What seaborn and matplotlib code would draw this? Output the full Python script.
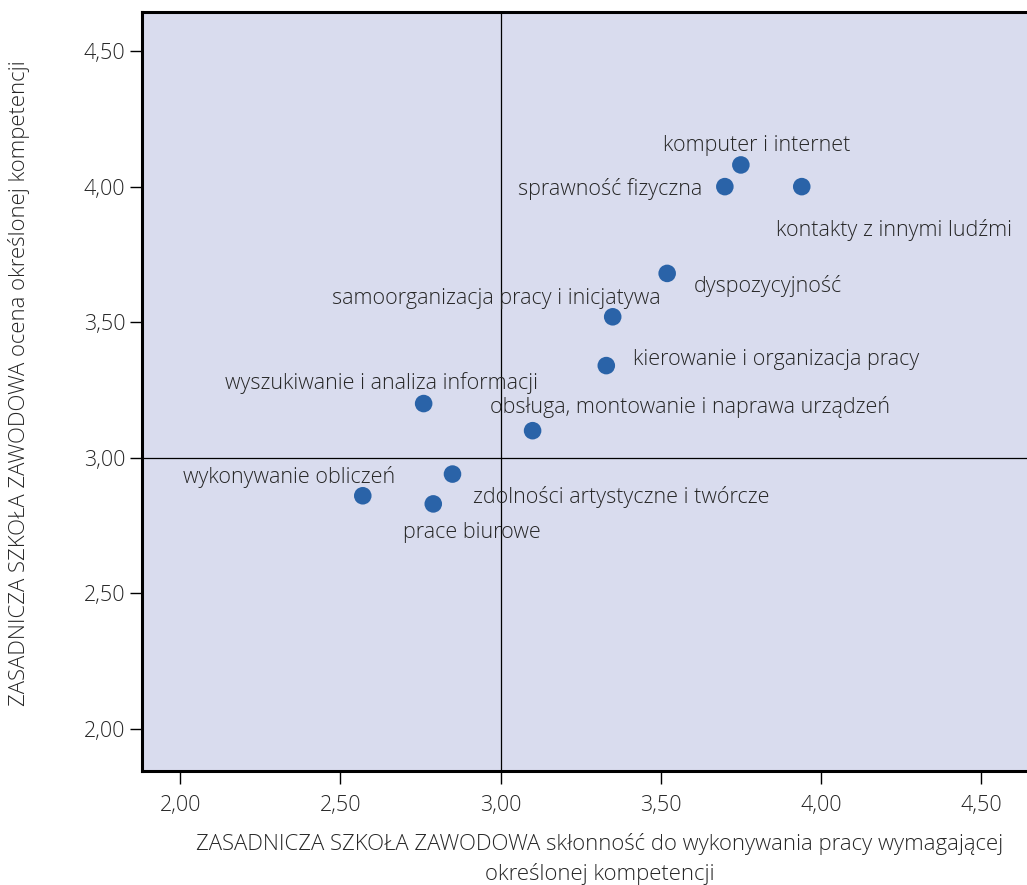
import matplotlib
matplotlib.use("Agg")
import matplotlib.pyplot as plt
import numpy as np
import pandas as pd
import seaborn as sns
from matplotlib.ticker import FuncFormatter

# competences: x = inclination to do the work, y = self-rated competence
labels = [
    "komputer i internet",
    "sprawność fizyczna",
    "kontakty z innymi ludźmi",
    "dyspozycyjność",
    "samoorganizacja pracy i inicjatywa",
    "kierowanie i organizacja pracy",
    "wyszukiwanie i analiza informacji",
    "obsługa, montowanie i naprawa urządzeń",
    "zdolności artystyczne i twórcze",
    "wykonywanie obliczeń",
    "prace biurowe",
]
x_vals = [3.75, 3.70, 3.94, 3.52, 3.35, 3.33, 2.76, 3.10, 2.85, 2.57, 2.79]
y_vals = [4.08, 4.00, 4.00, 3.68, 3.52, 3.34, 3.20, 3.10, 2.94, 2.86, 2.83]

# label placement relative to each point (pixels) and alignment
offsets = [(16, 19), (-23, -2), (92, -43), (27, -13), (-116, 18), (27, 6),
           (-42, 21), (157, 24), (169, -23), (-74, 19), (39, -29)]
aligns = ["center", "right", "center", "left", "center", "left",
          "center", "center", "center", "center", "center"]

ticks = [2.0, 2.5, 3.0, 3.5, 4.0, 4.5]

df = pd.DataFrame({"label": labels, "x": x_vals, "y": y_vals})

sns.set_theme(style="white")
plt.rcParams["font.family"] = ["Open Sans", "DejaVu Sans"]
plt.rcParams["font.weight"] = "light"
text_col = "#262626"

fig = plt.figure(figsize=(10.27, 8.85), dpi=100)
ax = fig.add_axes([142 / 1027, 1 - 771 / 885, 1 - 142 / 1027, (771 - 12) / 885])
ax.set_facecolor("#d9dcee")

ax.axvline(3.0, color="black", lw=0.9, zorder=1)
ax.axhline(3.0, color="black", lw=0.9, zorder=1)

sns.scatterplot(data=df, x="x", y="y", s=160, color="#2a63a8",
                edgecolor="none", ax=ax, zorder=3)

for lab, xv, yv, off, ha in zip(labels, x_vals, y_vals, offsets, aligns):
    ax.annotate(lab, (xv, yv), xytext=off, textcoords="offset pixels",
                ha=ha, va="center", fontsize=15.5, color=text_col,
                fontweight="light")

ax.set_xlim(1.881, 4.643)
ax.set_ylim(1.845, 4.644)
ax.set_xticks(ticks)
ax.set_yticks(ticks)
fmt = FuncFormatter(lambda v, p: f"{v:.2f}".replace(".", ","))
ax.xaxis.set_major_formatter(fmt)
ax.yaxis.set_major_formatter(fmt)
ax.tick_params(axis="both", direction="out", length=9, width=1.0,
               color="black", labelsize=15.5, labelcolor=text_col)
ax.tick_params(axis="x", pad=8)
ax.tick_params(axis="y", pad=3)
ax.xaxis.set_ticks_position("bottom")
ax.yaxis.set_ticks_position("left")
for t in ax.get_xticklabels() + ax.get_yticklabels():
    t.set_fontweight("light")

for side in ["left", "top", "bottom"]:
    ax.spines[side].set_visible(True)
    ax.spines[side].set_linewidth(2.2)
    ax.spines[side].set_color("black")
ax.spines["right"].set_visible(False)

ax.set_xlabel("ZASADNICZA SZKOŁA ZAWODOWA skłonność do wykonywania pracy wymagającej\n"
              "określonej kompetencji", fontsize=15.9, color=text_col,
              fontweight="light", linespacing=1.45)
ax.xaxis.set_label_coords((600 - 142) / 885, (771 - 833) / 759)
ax.set_ylabel("ZASADNICZA SZKOŁA ZAWODOWA ocena określonej kompetencji",
              fontsize=15.9, color=text_col, fontweight="light")
ax.yaxis.set_label_coords((30 - 142) / 885, (771 - 383) / 759)

fig.savefig("out.png", dpi=100)
